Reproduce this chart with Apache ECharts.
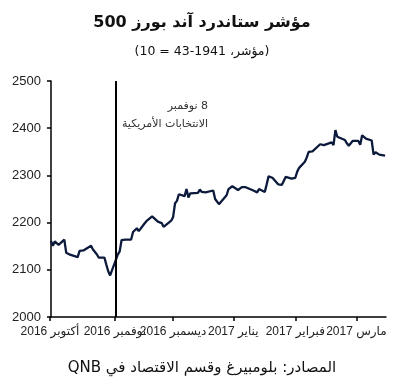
<!DOCTYPE html>
<html dir="rtl">
<head>
<meta charset="utf-8">
<script src="https://cdn.jsdelivr.net/npm/echarts@6/dist/echarts.min.js"></script>
<style>
html,body{margin:0;padding:0;background:#fff;}
#chart{width:404px;height:381px;}
</style>
</head>
<body>
<div id="chart"></div>
<script>
// ---- data ----
const titleText = 'مؤشر ستاندرد آند بورز 500';
const subtitleText = '(مؤشر، 1941-43 = 10)';
const sourceText = 'المصادر: بلومبيرغ وقسم الاقتصاد في QNB';
const annotationLines = ['8 نوفمبر', 'الانتخابات الأمريكية'];
const electionDate = '2016-11-06';
const startDate = '2016-10-03';

const dates = [
 '2016-10-03','2016-10-04','2016-10-05','2016-10-06','2016-10-07','2016-10-10','2016-10-11','2016-10-12','2016-10-13','2016-10-14',
 '2016-10-17','2016-10-18','2016-10-19','2016-10-20','2016-10-21','2016-10-24','2016-10-25','2016-10-26','2016-10-27','2016-10-28','2016-10-31',
 '2016-11-01','2016-11-02','2016-11-03','2016-11-04','2016-11-07','2016-11-08','2016-11-09','2016-11-10','2016-11-11','2016-11-14',
 '2016-11-15','2016-11-16','2016-11-17','2016-11-18','2016-11-21','2016-11-22','2016-11-23','2016-11-25','2016-11-28','2016-11-29','2016-11-30',
 '2016-12-01','2016-12-02','2016-12-05','2016-12-06','2016-12-07','2016-12-08','2016-12-09','2016-12-12','2016-12-13','2016-12-14',
 '2016-12-15','2016-12-16','2016-12-19','2016-12-20','2016-12-21','2016-12-22','2016-12-23','2016-12-27','2016-12-28','2016-12-29','2016-12-30',
 '2017-01-03','2017-01-04','2017-01-05','2017-01-06','2017-01-09','2017-01-10','2017-01-11','2017-01-12','2017-01-13','2017-01-17',
 '2017-01-18','2017-01-19','2017-01-20','2017-01-23','2017-01-24','2017-01-25','2017-01-26','2017-01-27','2017-01-30','2017-01-31',
 '2017-02-01','2017-02-02','2017-02-03','2017-02-06','2017-02-07','2017-02-08','2017-02-09','2017-02-10','2017-02-13','2017-02-14',
 '2017-02-15','2017-02-16','2017-02-17','2017-02-21','2017-02-22','2017-02-23','2017-02-24','2017-02-27','2017-02-28',
 '2017-03-01','2017-03-02','2017-03-03','2017-03-06','2017-03-07','2017-03-08','2017-03-09','2017-03-10','2017-03-13','2017-03-14',
 '2017-03-15','2017-03-16','2017-03-17','2017-03-20','2017-03-21','2017-03-22','2017-03-23','2017-03-24','2017-03-27'
];
const values = [
 2161,2151,2160,2160,2153,2164,2136,2139,2132,2133,
 2127,2140,2144,2141,2141,2151,2143,2139,2133,2126,2126,
 2111,2097,2088,2085,2132,2139,2163,2167,2164,2164,
 2180,2177,2188,2182,2198,2203,2204,2213,2202,2205,2199,
 2191,2192,2204,2212,2241,2246,2260,2256,2271,2253,
 2262,2258,2263,2270,2265,2261,2264,2268,2250,2249,2239,
 2258,2271,2269,2277,2269,2269,2275,2271,2275,2268,
 2272,2264,2271,2265,2281,2298,2297,2295,2281,2279,
 2280,2281,2297,2293,2293,2295,2308,2316,2329,2338,
 2350,2347,2351,2366,2363,2364,2367,2370,2364,
 2396,2382,2383,2375,2368,2363,2365,2373,2373,2365,
 2385,2381,2378,2374,2344,2349,2345,2344,2342
];
const tickDays = [-0.5, 33.5, 64, 95.5, 128, 160];
const tickLabels = ['أكتوبر 2016','نوفمبر 2016','ديسمبر 2016','يناير 2017','فبراير 2017','مارس 2017'];
const yTicks = [2000, 2100, 2200, 2300, 2400, 2500];

// ---- helpers ----
function dayOf(s){
  const p = s.split('-').map(Number);
  const q = startDate.split('-').map(Number);
  return (Date.UTC(p[0],p[1]-1,p[2]) - Date.UTC(q[0],q[1]-1,q[2]))/86400000;
}
const seriesData = dates.map((d,i)=>[dayOf(d), values[i]]);
const lastDay = dayOf(dates[dates.length-1]);

const arabicFont = '"DejaVu Sans", "Noto Sans", sans-serif';
const axisFont = '"Liberation Sans", "DejaVu Sans", sans-serif';

const chart = echarts.init(document.getElementById('chart'), null, {renderer:'canvas'});
chart.setOption({
  backgroundColor:'#ffffff',
  animation:false,
  title:[
    {text:titleText, left:'center', top:10,
     textStyle:{fontFamily:arabicFont, fontSize:16, fontWeight:'bold', color:'#111'}},
    {text:subtitleText, left:'center', top:40,
     textStyle:{fontFamily:arabicFont, fontSize:12.5, fontWeight:'normal', color:'#111'}},
    {text:sourceText, left:'center', top:356,
     textStyle:{fontFamily:arabicFont, fontSize:15, fontWeight:'normal', color:'#111'}}
  ],
  grid:{left:50, right:18, top:81, bottom:64, containLabel:false},
  xAxis:{
    type:'value',
    min:-0.5, max:lastDay+0.5,
    axisLine:{show:true, onZero:false, lineStyle:{color:'#000', width:1.5}},
    axisTick:{show:true, inside:false, length:4, customValues:tickDays, lineStyle:{color:'#000', width:1.5}},
    axisLabel:{show:true, margin:9, customValues:tickDays, fontFamily:axisFont, fontSize:12, color:'#222',
      alignMinLabel:'center', alignMaxLabel:'center', hideOverlap:false,
      formatter:function(v){
        let best=0, bd=1e9;
        tickDays.forEach((t,i)=>{const dd=Math.abs(t-v); if(dd<bd){bd=dd;best=i;}});
        return tickLabels[best];
      }},
    splitLine:{show:false}
  },
  yAxis:{
    type:'value',
    min:yTicks[0], max:yTicks[yTicks.length-1], interval:100,
    axisLine:{show:true, lineStyle:{color:'#000', width:1.5}},
    axisTick:{show:true, inside:false, length:4, lineStyle:{color:'#000', width:1.5}},
    axisLabel:{margin:9, fontFamily:axisFont, fontSize:13, color:'#222',
      formatter:function(v){ return String(v); }},
    splitLine:{show:false}
  },
  series:[{
    type:'line',
    data:seriesData,
    showSymbol:false,
    symbol:'none',
    lineStyle:{color:'#0c1a3c', width:2.3},
    markLine:{
      silent:true,
      symbol:['none','none'],
      label:{show:false},
      lineStyle:{color:'#000', width:2, type:'solid'},
      data:[{xAxis:dayOf(electionDate)}]
    }
  }],
  graphic:[
    {type:'text', right:404-208, top:101,
     style:{text:annotationLines[0], font:'11px '+arabicFont, fill:'#333', textAlign:'right'}},
    {type:'text', right:404-208, top:119,
     style:{text:annotationLines[1], font:'11px '+arabicFont, fill:'#333', textAlign:'right'}}
  ]
});
</script>
</body>
</html>
